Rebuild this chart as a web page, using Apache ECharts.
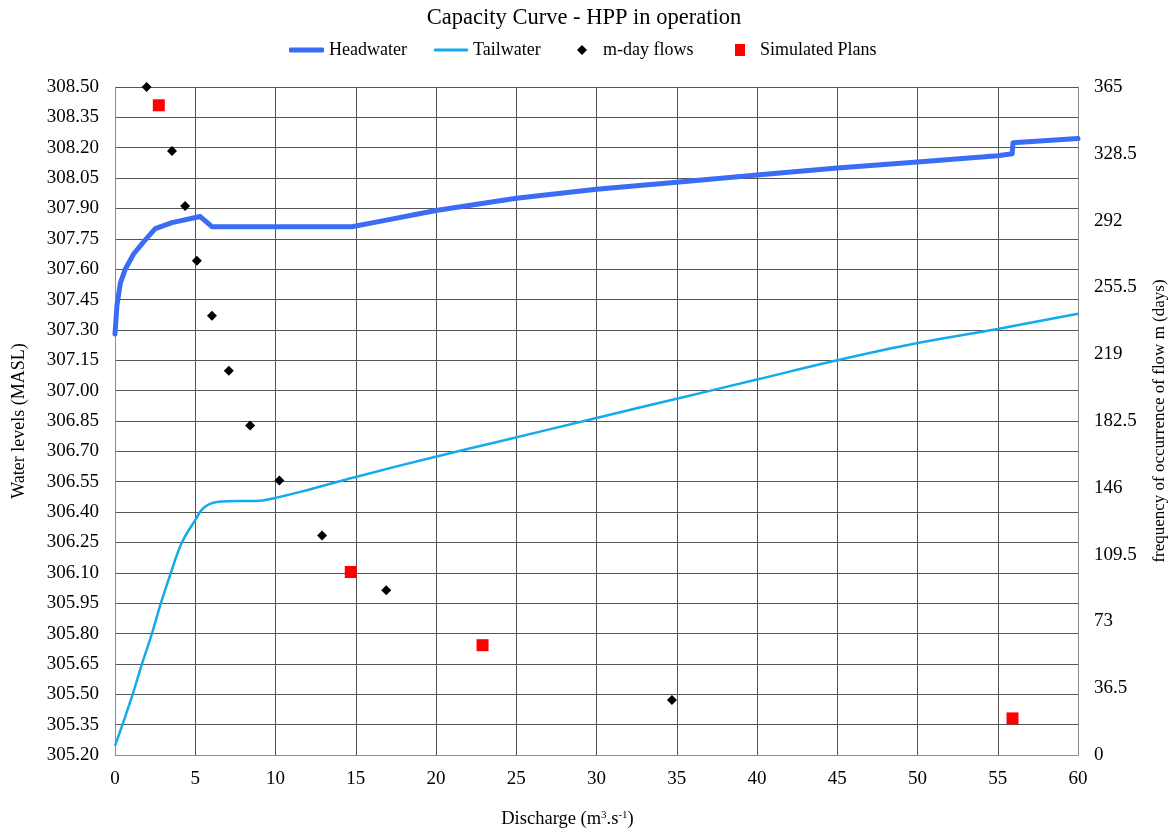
<!DOCTYPE html>
<html>
<head>
<meta charset="utf-8">
<title>Capacity Curve - HPP in operation</title>
<script src="https://cdn.jsdelivr.net/npm/echarts@6/dist/echarts.min.js"></script>
<style>
  html, body { margin: 0; padding: 0; background: #ffffff; }
  #chart { width: 1176px; height: 834px; }
</style>
</head>
<body>
<div id="chart"></div>
<script>
// Headwater level (MASL) against discharge (m3/s)
const headwaterQ = [0, 0.12, 0.33, 0.64, 1.16, 1.78, 2.51, 3.55, 5.31, 6.04, 14.75, 16.75, 20, 25, 30, 35, 40, 45, 50, 55, 55.9, 55.95, 60];
const headwaterLevel = [307.28, 307.42, 307.53, 307.60, 307.675, 307.735, 307.80, 307.83, 307.86, 307.81, 307.81, 307.84, 307.89, 307.95, 307.995, 308.03, 308.065, 308.10, 308.13, 308.16, 308.17, 308.225, 308.245];

// Tailwater level (MASL) against discharge (m3/s)
const tailwaterQ = [0, 1.06, 1.68, 2.30, 2.86, 3.48, 4.17, 5.0, 5.51, 6.35, 7.8, 8.83, 9.98, 11.53, 15.06, 20.04, 24, 30, 35, 40, 45, 50, 55, 60];
const tailwaterLevel = [305.245, 305.49, 305.65, 305.80, 305.95, 306.10, 306.25, 306.36, 306.42, 306.45, 306.455, 306.455, 306.47, 306.50, 306.575, 306.675, 306.75, 306.865, 306.96, 307.055, 307.15, 307.235, 307.305, 307.38];

// m-day flows: discharge and number of days the flow is reached
const mdayQ = [1.97, 3.55, 4.37, 5.10, 6.04, 7.09, 8.42, 10.24, 12.9, 16.9, 34.7];
const mdayDays = [365, 330, 300, 270, 240, 210, 180, 150, 120, 90, 30];

// Simulated plans: discharge and days
const planQ = [2.73, 14.69, 22.9, 55.92];
const planDays = [355, 100, 60, 20];

const zip = (xs, ys) => xs.map((x, i) => [x, ys[i]]);

const FONT = '"Liberation Serif", "Times New Roman", serif';
const GRID_COLOR = '#555555';
const AXIS_COLOR = '#8c8c8c';
const HEAD_COLOR = '#3b6cf5';
const TAIL_COLOR = '#14aaeb';

const chart = echarts.init(document.getElementById('chart'), null, { renderer: 'canvas' });

const legendBase = {
  orient: 'horizontal',
  top: 41,
  padding: 0,
  selectedMode: false,
  textStyle: { fontFamily: FONT, fontSize: 18, color: '#000' }
};

chart.setOption({
  backgroundColor: '#ffffff',
  animation: false,
  textStyle: { fontFamily: FONT },
  title: {
    text: 'Capacity Curve - HPP in operation',
    left: 579,
    textAlign: 'center',
    top: 2,
    textStyle: { fontFamily: FONT, fontSize: 22.5, fontWeight: 'normal', color: '#000' }
  },
  legend: [
    Object.assign({}, legendBase, {
      left: 289, itemWidth: 35, itemHeight: 5,
      data: [{ name: 'Headwater', icon: 'roundRect', itemStyle: { color: HEAD_COLOR } }]
    }),
    Object.assign({}, legendBase, {
      left: 434, itemWidth: 34, itemHeight: 3,
      data: [{ name: 'Tailwater', icon: 'roundRect', itemStyle: { color: TAIL_COLOR } }]
    }),
    Object.assign({}, legendBase, {
      left: 577, itemWidth: 32, itemHeight: 10,
      data: [{ name: 'm-day flows', icon: 'path://M5 0 L10 5 L5 10 L0 5 Z', itemStyle: { color: '#000', opacity: 1 } }]
    }),
    Object.assign({}, legendBase, {
      left: 735, itemWidth: 30, itemHeight: 12,
      data: [{ name: 'Simulated Plans', icon: 'path://M0 0 L10 0 L10 12 L0 12 Z', itemStyle: { color: '#ff0000', opacity: 1 } }]
    })
  ],
  grid: { left: 115, right: 97, top: 87, bottom: 79, containLabel: false },
  xAxis: {
    type: 'value',
    min: 0, max: 60, interval: 5,
    name: 'Discharge (m{sup|3}.s{sup|-1})',
    nameLocation: 'middle',
    nameGap: 55,
    nameTextStyle: {
      fontFamily: FONT, fontSize: 18.5, color: '#000',
      padding: [0, 58, 0, 0],
      rich: { sup: { fontFamily: FONT, fontSize: 11, verticalAlign: 'top', padding: [0, 0, 8, 0] } }
    },
    axisLine: { show: true, lineStyle: { color: AXIS_COLOR, width: 1 } },
    axisTick: { show: false },
    axisLabel: { margin: 15, fontFamily: FONT, fontSize: 19, color: '#000' },
    splitLine: { show: true, lineStyle: { color: GRID_COLOR, width: 1 } }
  },
  yAxis: [
    {
      type: 'value',
      position: 'left',
      min: 305.2, max: 308.5, interval: 0.15,
      name: 'Water levels (MASL)',
      nameLocation: 'middle',
      nameGap: 87,
      nameTextStyle: { fontFamily: FONT, fontSize: 18, color: '#000' },
      axisLine: { show: true, lineStyle: { color: AXIS_COLOR, width: 1 } },
      axisTick: { show: false },
      axisLabel: {
        margin: 16, fontFamily: FONT, fontSize: 19, color: '#000',
        formatter: v => v.toFixed(2)
      },
      splitLine: { show: true, lineStyle: { color: GRID_COLOR, width: 1 } }
    },
    {
      type: 'value',
      position: 'right',
      min: 0, max: 365, interval: 36.5,
      name: 'frequency of occurrence of flow m (days)',
      nameLocation: 'middle',
      nameGap: 73,
      nameTextStyle: { fontFamily: FONT, fontSize: 17, color: '#000' },
      axisLine: { show: true, lineStyle: { color: AXIS_COLOR, width: 1 } },
      axisTick: { show: false },
      axisLabel: { margin: 16, fontFamily: FONT, fontSize: 19, color: '#000' },
      splitLine: { show: false }
    }
  ],
  series: [
    {
      name: 'Headwater',
      type: 'line',
      yAxisIndex: 0,
      data: zip(headwaterQ, headwaterLevel),
      showSymbol: false,
      symbol: 'none',
      smooth: false,
      lineStyle: { color: HEAD_COLOR, width: 5, cap: 'round', join: 'round' },
      itemStyle: { color: HEAD_COLOR },
      z: 4
    },
    {
      name: 'Tailwater',
      type: 'line',
      yAxisIndex: 0,
      data: zip(tailwaterQ, tailwaterLevel),
      showSymbol: false,
      symbol: 'none',
      smooth: 0.4,
      lineStyle: { color: TAIL_COLOR, width: 2.5 },
      itemStyle: { color: TAIL_COLOR },
      z: 3
    },
    {
      name: 'm-day flows',
      type: 'scatter',
      yAxisIndex: 1,
      data: zip(mdayQ, mdayDays),
      symbol: 'diamond',
      symbolSize: 10,
      itemStyle: { color: '#000', opacity: 1 },
      z: 5
    },
    {
      name: 'Simulated Plans',
      type: 'scatter',
      yAxisIndex: 1,
      data: zip(planQ, planDays),
      symbol: 'rect',
      symbolSize: 12,
      itemStyle: { color: '#ff0000', opacity: 1 },
      z: 6
    }
  ]
});
</script>
</body>
</html>
